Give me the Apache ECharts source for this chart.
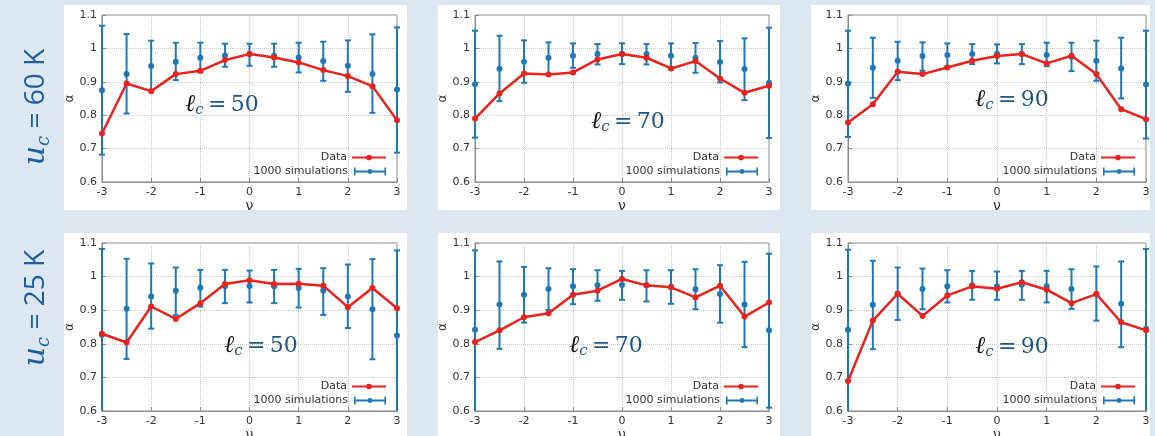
<!DOCTYPE html>
<html>
<head>
<meta charset="utf-8">
<script src="https://cdn.jsdelivr.net/npm/echarts@6/dist/echarts.min.js"></script>
<style>
  html, body { margin: 0; padding: 0; background: #dce7f2; }
  #chart { width: 1155px; height: 436px; }
</style>
</head>
<body>
<div id="chart"></div>
<script>
// nu values shared by every panel
const nu = [-3, -2.5, -2, -1.5, -1, -0.5, 0, 0.5, 1, 1.5, 2, 2.5, 3];

// u_c = 60 K, l_c = 50
const data60_50 = [0.745, 0.895, 0.872, 0.923, 0.933, 0.965, 0.983, 0.973, 0.958, 0.935, 0.917, 0.887, 0.785];
const mean60_50 = [0.875, 0.923, 0.947, 0.960, 0.972, 0.979, 0.983, 0.978, 0.973, 0.962, 0.948, 0.923, 0.877];
const low60_50 = [0.682, 0.805, 0.873, 0.905, 0.928, 0.945, 0.948, 0.945, 0.928, 0.903, 0.870, 0.807, 0.688];
const high60_50 = [1.068, 1.043, 1.023, 1.017, 1.017, 1.014, 1.014, 1.014, 1.017, 1.020, 1.024, 1.042, 1.063];

// u_c = 60 K, l_c = 70
const data60_70 = [0.790, 0.865, 0.925, 0.922, 0.928, 0.967, 0.983, 0.972, 0.940, 0.962, 0.910, 0.867, 0.888];
const mean60_70 = [0.893, 0.939, 0.960, 0.972, 0.978, 0.983, 0.984, 0.983, 0.978, 0.972, 0.959, 0.938, 0.897];
const low60_70 = [0.733, 0.842, 0.897, 0.923, 0.942, 0.952, 0.953, 0.952, 0.942, 0.927, 0.898, 0.845, 0.732];
const high60_70 = [1.053, 1.038, 1.024, 1.018, 1.015, 1.013, 1.015, 1.013, 1.015, 1.016, 1.022, 1.030, 1.062];

// u_c = 60 K, l_c = 90
const data60_90 = [0.778, 0.833, 0.930, 0.923, 0.943, 0.963, 0.977, 0.983, 0.955, 0.978, 0.923, 0.818, 0.788];
const mean60_90 = [0.895, 0.942, 0.963, 0.977, 0.980, 0.983, 0.984, 0.983, 0.980, 0.975, 0.963, 0.940, 0.892];
const low60_90 = [0.735, 0.852, 0.905, 0.933, 0.947, 0.953, 0.955, 0.953, 0.947, 0.932, 0.903, 0.850, 0.730];
const high60_90 = [1.053, 1.032, 1.020, 1.018, 1.015, 1.013, 1.012, 1.013, 1.017, 1.017, 1.023, 1.032, 1.053];

// u_c = 25 K, l_c = 50
const data25_50 = [0.830, 0.804, 0.911, 0.874, 0.921, 0.978, 0.989, 0.978, 0.979, 0.973, 0.909, 0.966, 0.906];
const mean25_50 = [0.827, 0.904, 0.941, 0.958, 0.967, 0.971, 0.972, 0.971, 0.966, 0.959, 0.941, 0.903, 0.825];
const low25_50 = [0.570, 0.755, 0.845, 0.885, 0.911, 0.921, 0.923, 0.921, 0.908, 0.886, 0.847, 0.754, 0.570];
const high25_50 = [1.082, 1.053, 1.039, 1.027, 1.020, 1.020, 1.018, 1.020, 1.023, 1.025, 1.036, 1.052, 1.078];

// u_c = 25 K, l_c = 70
const data25_70 = [0.805, 0.840, 0.879, 0.891, 0.946, 0.958, 0.993, 0.974, 0.968, 0.938, 0.973, 0.881, 0.923];
const mean25_70 = [0.842, 0.917, 0.946, 0.963, 0.971, 0.974, 0.975, 0.974, 0.970, 0.962, 0.948, 0.917, 0.840];
const low25_70 = [0.570, 0.785, 0.863, 0.901, 0.918, 0.928, 0.931, 0.926, 0.919, 0.903, 0.863, 0.790, 0.610];
const high25_70 = [1.078, 1.045, 1.029, 1.025, 1.022, 1.019, 1.017, 1.019, 1.019, 1.022, 1.034, 1.044, 1.068];

// u_c = 25 K, l_c = 90
const data25_90 = [0.689, 0.869, 0.949, 0.883, 0.944, 0.971, 0.964, 0.983, 0.961, 0.921, 0.948, 0.864, 0.840];
const mean25_90 = [0.842, 0.916, 0.949, 0.963, 0.971, 0.974, 0.971, 0.976, 0.971, 0.963, 0.948, 0.919, 0.845];
const low25_90 = [0.570, 0.784, 0.871, 0.903, 0.923, 0.931, 0.931, 0.931, 0.923, 0.904, 0.869, 0.790, 0.570];
const high25_90 = [1.080, 1.047, 1.027, 1.024, 1.019, 1.017, 1.015, 1.017, 1.017, 1.022, 1.030, 1.045, 1.082];

const rowLabels = ['60 K', '25 K'];
const lcLabels = ['50', '70', '90'];

const Y_MIN = 0.6;
const Y_MAX = 1.1;
const RED = '#e8231d';
const BLUE = '#1f78b5';
const AXIS_FONT = 'DejaVu Sans';

const panels = [
  { data: data60_50, mean: mean60_50, low: low60_50, high: high60_50, lc: lcLabels[0], grid: [102, 15, 295, 167], box: [64, 5, 343, 205], ann: [222, 105] },
  { data: data60_70, mean: mean60_70, low: low60_70, high: high60_70, lc: lcLabels[1], grid: [475, 15, 294, 167], box: [438, 5, 342, 205], ann: [628, 122] },
  { data: data60_90, mean: mean60_90, low: low60_90, high: high60_90, lc: lcLabels[2], grid: [848, 15, 298, 167], box: [811, 5, 339, 205], ann: [1012, 100] },
  { data: data25_50, mean: mean25_50, low: low25_50, high: high25_50, lc: lcLabels[0], grid: [102, 243, 295, 168], box: [64, 233, 343, 203], ann: [261, 346] },
  { data: data25_70, mean: mean25_70, low: low25_70, high: high25_70, lc: lcLabels[1], grid: [475, 243, 294, 168], box: [438, 233, 342, 203], ann: [606, 346] },
  { data: data25_90, mean: mean25_90, low: low25_90, high: high25_90, lc: lcLabels[2], grid: [848, 243, 298, 168], box: [811, 233, 339, 203], ann: [1012, 347] },
];

// error bar: vertical line, caps, mean dot
function renderErrorBar(params, api) {
  const x = api.value(0);
  const lowVal = api.value(1);
  const highVal = Math.min(api.value(2), Y_MAX);
  const pLow = api.coord([x, Math.max(lowVal, Y_MIN)]);
  const pHigh = api.coord([x, highVal]);
  const pMean = api.coord([x, api.value(3)]);
  const cap = 3;
  const style = { stroke: BLUE, lineWidth: 2 };
  const children = [
    { type: 'line', shape: { x1: pLow[0], y1: pLow[1], x2: pHigh[0], y2: pHigh[1] }, style },
    { type: 'line', shape: { x1: pHigh[0] - cap, y1: pHigh[1], x2: pHigh[0] + cap, y2: pHigh[1] }, style },
    { type: 'circle', shape: { cx: pMean[0], cy: pMean[1], r: 3 }, style: { fill: BLUE } },
  ];
  if (lowVal >= Y_MIN) {
    children.push({ type: 'line', shape: { x1: pLow[0] - cap, y1: pLow[1], x2: pLow[0] + cap, y2: pLow[1] }, style });
  }
  return { type: 'group', children };
}

const chart = echarts.init(document.getElementById('chart'));

const grids = [];
const xAxes = [];
const yAxes = [];
const series = [];
const legends = [];
const graphics = [];

panels.forEach((p, i) => {
  const [left, top, width, height] = p.grid;
  grids.push({
    left, top, width, height,
    show: true,
    borderColor: '#8a8a8a',
    borderWidth: 1,
    backgroundColor: 'transparent',
    containLabel: false,
    outerBoundsMode: 'none',
  });
  xAxes.push({
    type: 'value',
    gridIndex: i,
    min: -3,
    max: 3,
    interval: 1,
    name: 'ν',
    nameLocation: 'middle',
    nameGap: 10,
    nameTextStyle: { color: '#333', fontSize: 14, fontFamily: AXIS_FONT },
    axisLine: { show: true, onZero: false, lineStyle: { color: '#8a8a8a' } },
    axisTick: { show: true, inside: true, length: 4, lineStyle: { color: '#8a8a8a' } },
    axisLabel: { color: '#333', fontSize: 11, fontFamily: AXIS_FONT, margin: 5 },
    splitLine: { show: true, lineStyle: { color: '#c8c8c8', type: 'dotted' } },
  });
  yAxes.push({
    type: 'value',
    gridIndex: i,
    min: Y_MIN,
    max: Y_MAX,
    interval: 0.1,
    name: 'α',
    nameLocation: 'middle',
    nameGap: 23,
    nameTextStyle: { color: '#333', fontSize: 12, fontFamily: AXIS_FONT },
    axisLine: { show: true, onZero: false, lineStyle: { color: '#8a8a8a' } },
    axisTick: { show: true, inside: true, length: 4, lineStyle: { color: '#8a8a8a' } },
    axisLabel: {
      color: '#333', fontSize: 11, fontFamily: AXIS_FONT, margin: 5,
      formatter: (v) => String(Math.round(v * 10) / 10),
    },
    splitLine: { show: true, lineStyle: { color: '#c8c8c8', type: 'dotted' } },
  });

  series.push({
    name: '1000 simulations',
    type: 'custom',
    xAxisIndex: i,
    yAxisIndex: i,
    renderItem: renderErrorBar,
    encode: { x: 0, y: [1, 2] },
    data: nu.map((x, k) => [x, p.low[k], p.high[k], p.mean[k]]),
    itemStyle: { color: BLUE },
    z: 2,
  });
  series.push({
    name: 'Data',
    type: 'line',
    xAxisIndex: i,
    yAxisIndex: i,
    data: nu.map((x, k) => [x, p.data[k]]),
    symbol: 'circle',
    symbolSize: 6,
    itemStyle: { color: RED },
    lineStyle: { color: RED, width: 2.5 },
    z: 3,
  });

  // one legend component per entry so that the icons line up on the right
  const legendRight = 1155 - (left + width - 11);
  const bottom = top + height;
  const legendBase = {
    orient: 'vertical',
    align: 'right',
    right: legendRight,
    itemWidth: 34,
    itemHeight: 8,
    padding: 0,
    selectedMode: false,
    textStyle: { color: '#333', fontSize: 11, fontFamily: AXIS_FONT },
  };
  legends.push(Object.assign({}, legendBase, {
    top: bottom - 30,
    data: [{
      name: 'Data',
      icon: 'path://M0,3.7h40v2.6h-40z M20,1.7a3.3,3.3 0 1,1 -0.01,0z',
      itemStyle: { color: RED, borderWidth: 0 },
    }],
  }));
  legends.push(Object.assign({}, legendBase, {
    top: bottom - 16,
    data: [{
      name: '1000 simulations',
      icon: 'path://M0,0h2v10h-2z M2,3.8h36v2.4h-36z M38,0h2v10h-2z M20,1.9a3.1,3.1 0 1,1 -0.01,0z',
      itemStyle: { color: BLUE, borderWidth: 0 },
    }],
  }));

  const [bx, by, bw, bh] = p.box;
  graphics.push({
    type: 'rect',
    shape: { x: bx, y: by, width: bw, height: bh },
    style: { fill: '#ffffff' },
    z: -10,
    silent: true,
  });
  graphics.push({
    type: 'text',
    x: p.ann[0],
    y: p.ann[1],
    style: {
      text: '{l|ℓ}{c|c}{v|\u2009=\u2009' + p.lc + '}',
      align: 'center',
      verticalAlign: 'middle',
      rich: {
        l: { fontFamily: 'DejaVu Serif', fontStyle: 'italic', fontSize: 24, fill: '#111', lineHeight: 26 },
        c: { fontFamily: 'DejaVu Serif', fontStyle: 'italic', fontSize: 15, fill: '#1f5582', lineHeight: 12, verticalAlign: 'bottom' },
        v: { fontFamily: 'DejaVu Serif', fontSize: 22, fill: '#1f5582', lineHeight: 26 },
      },
    },
    z: 10,
  });
});

// row labels, rotated
[[36, 107], [36, 308]].forEach((pos, r) => {
  graphics.push({
    type: 'text',
    x: pos[0],
    y: pos[1],
    rotation: Math.PI / 2,
    style: {
      text: '{u|u}{c|c}{t| = ' + rowLabels[r] + '}',
      align: 'center',
      verticalAlign: 'middle',
      rich: {
        u: { fontFamily: 'DejaVu Serif', fontStyle: 'italic', fontSize: 30, fill: '#1e5f9c', lineHeight: 34 },
        c: { fontFamily: 'DejaVu Serif', fontStyle: 'italic', fontSize: 18, fill: '#1e5f9c', lineHeight: 14, verticalAlign: 'bottom' },
        t: { fontFamily: 'Open Sans', fontSize: 28, fill: '#1e5f9c', lineHeight: 34 },
      },
    },
    z: 10,
  });
});

const option = {
  backgroundColor: '#dce7f2',
  animation: false,
  grid: grids,
  xAxis: xAxes,
  yAxis: yAxes,
  legend: legends,
  graphic: graphics,
  series,
};

chart.setOption(option);
</script>
</body>
</html>
